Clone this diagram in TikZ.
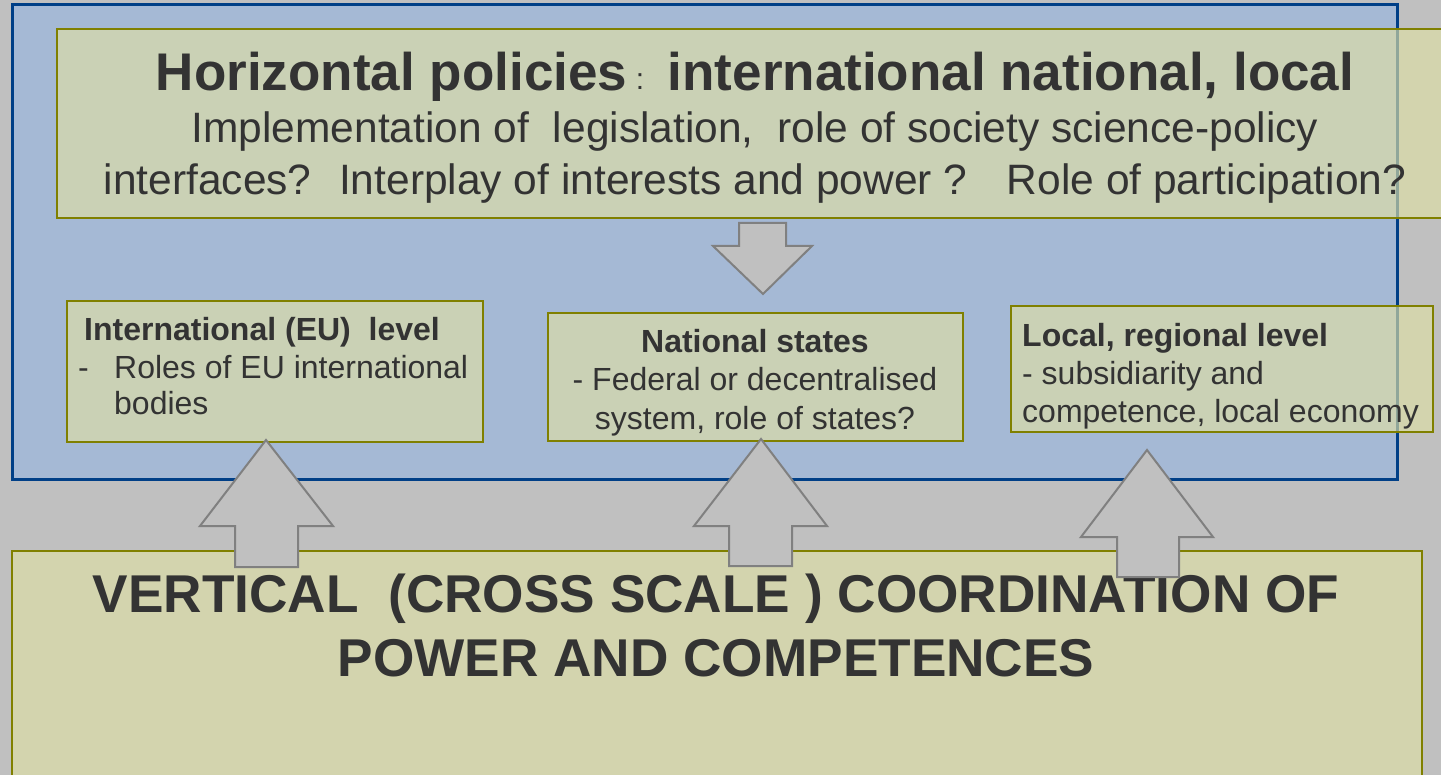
\documentclass[tikz,border=0pt]{standalone}
\usepackage{fontspec}
\setmainfont{Liberation Sans}
\definecolor{bgc}{HTML}{C0C0C0}
\definecolor{bluefill}{HTML}{A5B9D5}
\definecolor{blueedge}{HTML}{003F87}
\definecolor{boxfill}{HTML}{DEDFA5}
\definecolor{olive}{HTML}{808000}
\definecolor{arrfill}{HTML}{C0C0C0}
\definecolor{arredge}{HTML}{808080}
\definecolor{txt}{HTML}{333333}
\tikzset{
  panel/.style={draw=blueedge, line width=3pt, fill=bluefill},
  greenbox/.style={draw=olive, line width=2.2pt, fill=boxfill, fill opacity=0.65},
  fatarrow/.style={draw=arredge, line width=2pt, fill=arrfill, line join=miter},
  txtc/.style={anchor=base, inner sep=0pt, text=txt},
  txtl/.style={anchor=base west, inner sep=0pt, text=txt},
}
\newcommand{\fs}[1]{\fontsize{#1}{#1}\selectfont}
\begin{document}
\begin{tikzpicture}[x=1pt,y=-1pt]
\useasboundingbox (0,0) rectangle (1441,775);
\fill[bgc] (0,0) rectangle (1441,775);
\clip (0,0) rectangle (1441,775);
% main blue panel
\path[panel] (12,5) rectangle (1397,480);
% top box
\path[greenbox] (57,29) rectangle (1470,218);
\node[txtc] (title) at (755,91) {\fs{53}\bfseries Horizontal policies\,{\fs{30}\mdseries\raisebox{1pt}{:}}\, international national, local};
\node[txtc] (l2) at (755,143) {\fs{42.5}Implementation of~ legislation,~ role of society science-policy};
\node[txtc] (l3) at (755,195) {\fs{42.5}interfaces?~ Interplay of interests and power ?~~ Role of participation?};
% down arrow
\path[fatarrow] (739,223) -- (786,223) -- (786,246) -- (812,246) -- (763,294) -- (713,246) -- (739,246) -- cycle;
% level boxes
\path[greenbox] (67,301) rectangle (483,442);
\path[greenbox] (548,313) rectangle (963,441);
\path[greenbox] (1011,306) rectangle (1433,432);
\node[txtl] (eu1) at (84,341) {\fs{32}\bfseries International (EU)~ level};
\node[txtl] (eud) at (78,379) {\fs{32}-};
\node[txtl] (eu2) at (114,379) {\fs{32}Roles of EU international};
\node[txtl] (eu3) at (114,415) {\fs{32}bodies};
\node[txtc] (na1) at (755,353) {\fs{32}\bfseries National states};
\node[txtc] (na2) at (755,391) {\fs{32}- Federal or decentralised};
\node[txtc] (na3) at (755,430) {\fs{32}system, role of states?};
\node[txtl] (lo1) at (1022,347) {\fs{32}\bfseries Local, regional level};
\node[txtl] (lo2) at (1022,385) {\fs{32}- subsidiarity and};
\node[txtl] (lo3) at (1022,423) {\fs{32}competence, local economy};
% bottom box
\path[greenbox] (12,551) rectangle (1422,800);
\node[txtc] (b1) at (716,612) {\fs{53.2}\bfseries VERTICAL~ (CROSS SCALE ) COORDINATION OF};
\node[txtc] (b2) at (716,676) {\fs{53.2}\bfseries POWER AND COMPETENCES};
% up arrows
\path[fatarrow] (235,567) -- (235,526) -- (200,526) -- (266,440) -- (333,526) -- (298,526) -- (298,567) -- cycle;
\path[fatarrow] (729,566) -- (729,526) -- (694,526) -- (761,439) -- (827,526) -- (792,526) -- (792,566) -- cycle;
\path[fatarrow] (1117,577) -- (1117,537) -- (1081,537) -- (1147,450) -- (1213,537) -- (1179,537) -- (1179,577) -- cycle;
\end{tikzpicture}
\end{document}
